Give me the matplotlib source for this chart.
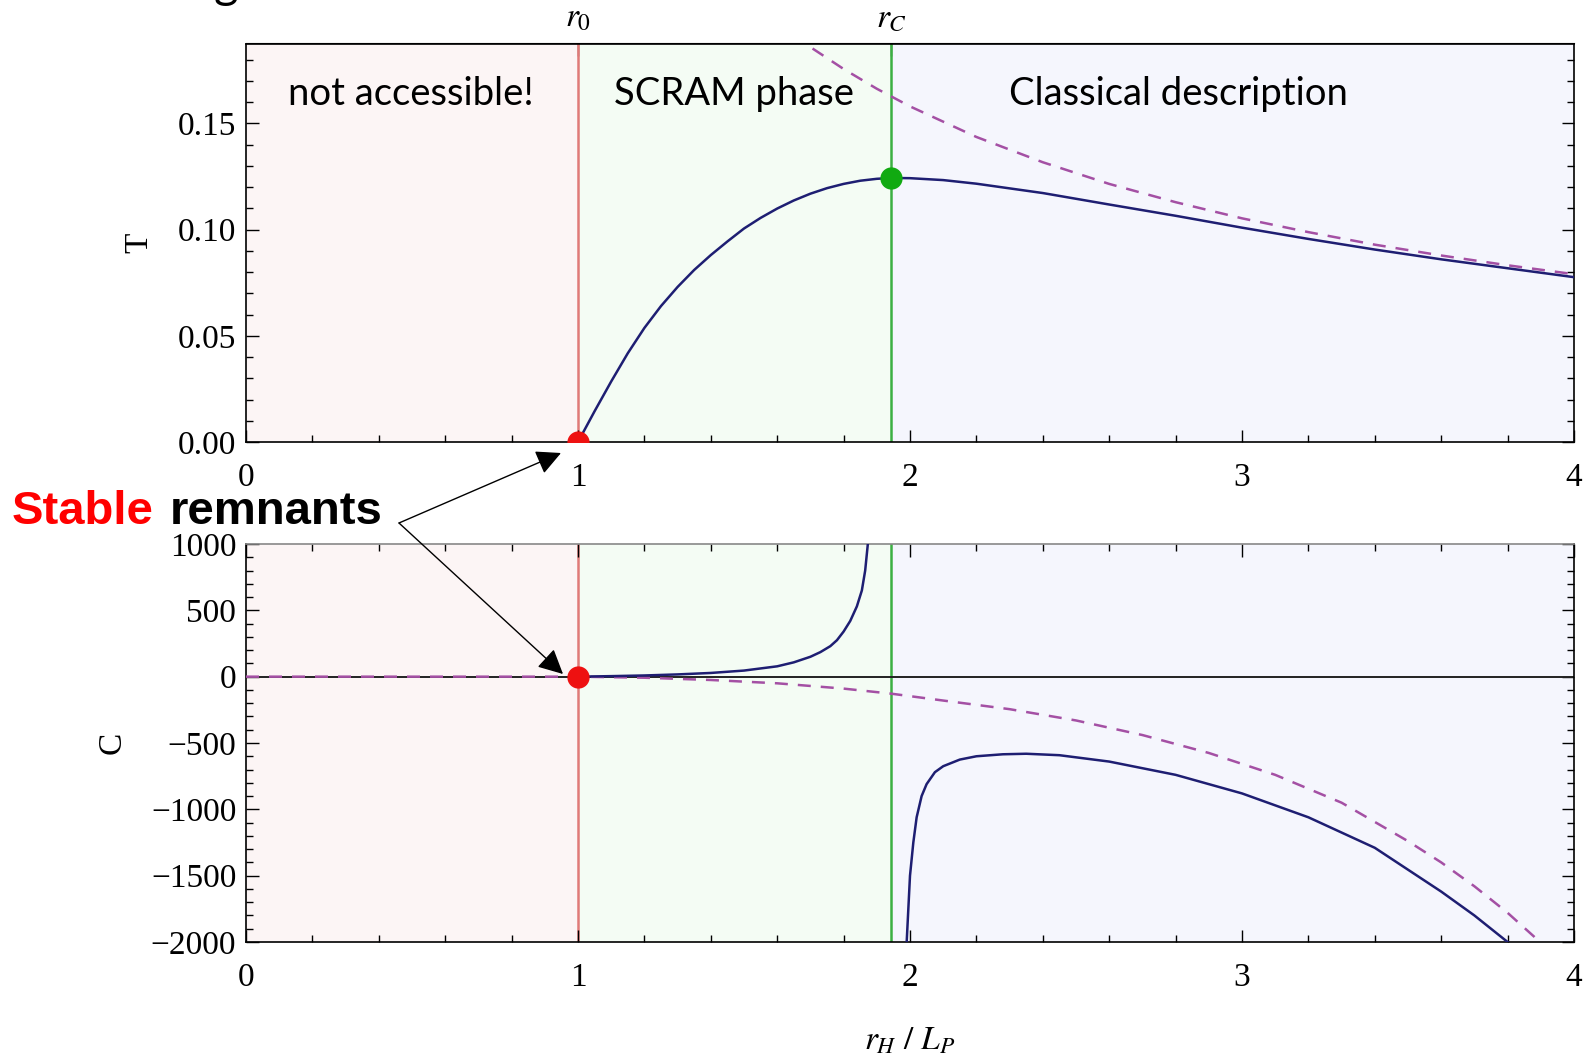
import matplotlib
matplotlib.use("Agg")
import matplotlib.pyplot as plt
from matplotlib.ticker import MultipleLocator

# ---------------- data ----------------
r0 = 1.0
rC = 1.943
x_limits = [0, 4]
region_edges = [0.0, r0, rC, 4.0]
region_labels = ["not accessible!", "SCRAM phase", "Classical description"]
region_label_x = [0.495, 1.47, 2.81]

T_r = [1.00, 1.05, 1.10, 1.15, 1.20, 1.25, 1.30, 1.35, 1.40, 1.45, 1.50, 1.55, 1.60,
       1.65, 1.70, 1.75, 1.80, 1.85, 1.90, 1.943, 2.0, 2.1, 2.2, 2.4, 2.6, 2.8, 3.0,
       3.2, 3.4, 3.6, 3.8, 4.0]
T_val = [0.0, 0.0145, 0.0285, 0.0418, 0.0537, 0.0640, 0.0730, 0.0810, 0.0880, 0.0944,
         0.1005, 0.1055, 0.1099, 0.1137, 0.1169, 0.1195, 0.1215, 0.1230, 0.1239, 0.1243,
         0.1242, 0.1233, 0.1216, 0.1172, 0.1118, 0.1065, 0.1009, 0.0956, 0.0906, 0.0860,
         0.0818, 0.0776]

Tcl_r = [1.65, 1.70, 1.80, 1.90, 2.0, 2.2, 2.4, 2.6, 2.8, 3.0, 3.2, 3.4, 3.6, 3.8, 4.0]
Tcl_val = [0.1915, 0.1859, 0.1756, 0.1663, 0.1580, 0.1436, 0.1317, 0.1215, 0.1129,
           0.1053, 0.0988, 0.0929, 0.0878, 0.0832, 0.0790]

C_pos_r = [1.0, 1.1, 1.2, 1.3, 1.4, 1.5, 1.6, 1.65, 1.7, 1.73, 1.76, 1.78, 1.80, 1.82,
           1.84, 1.855, 1.865, 1.873, 1.88]
C_pos_val = [0, 4, 9, 17, 28, 46, 78, 108, 150, 185, 230, 275, 340, 420, 530, 650, 800,
             1000, 1200]

C_neg_r = [1.99, 2.0, 2.01, 2.02, 2.035, 2.05, 2.075, 2.1, 2.15, 2.2, 2.28, 2.35, 2.45,
           2.6, 2.8, 3.0, 3.2, 3.4, 3.6, 3.7, 3.78, 3.8]
C_neg_val = [-2000, -1500, -1250, -1060, -900, -810, -720, -675, -625, -600, -585, -581,
             -592, -640, -740, -880, -1060, -1290, -1620, -1800, -1960, -2000]

Ccl_r = [0.0, 1.0, 1.2, 1.4, 1.6, 1.8, 1.943, 2.1, 2.3, 2.5, 2.7, 2.9, 3.1, 3.3, 3.5,
         3.6, 3.7, 3.8, 3.88, 3.9]
Ccl_val = [0, 0, -8, -25, -50, -90, -128, -180, -245, -330, -440, -575, -740, -950,
           -1240, -1400, -1580, -1780, -1960, -2010]

T_ylim = [0, 0.1876]
C_ylim = [-2000, 1000]

# ---------------- style ----------------
plt.rcParams['mathtext.fontset'] = 'stix'
plt.rcParams['font.family'] = ['Liberation Serif', 'DejaVu Serif']

shade_colors = ['#fcf5f5', '#f4fcf4', '#f5f6fd']
red_line = '#e07a78'
green_line = '#3cb043'
solid_col = '#1e1e72'
dash_col = '#a450a4'
dash_pat = (5.2, 4.0)

fig = plt.figure(figsize=(15.85, 10.6), dpi=100)
W, H = 1585, 1060
left, right = 246 / W, 1574 / W
ax1 = fig.add_axes([left, 1 - 442 / H, right - left, 398.5 / H])
ax2 = fig.add_axes([left, 1 - 942 / H, right - left, 398 / H])

tick_fs = 24
for ax in (ax1, ax2):
    for i in range(3):
        ax.axvspan(region_edges[i], region_edges[i + 1], color=shade_colors[i], lw=0, zorder=0)
    ax.axvline(r0, color=red_line, lw=1.8, zorder=1)
    ax.axvline(rC, color=green_line, lw=1.8, zorder=1)
    ax.set_xlim(x_limits)
    ax.xaxis.set_major_locator(MultipleLocator(1))
    ax.xaxis.set_minor_locator(MultipleLocator(0.2))
    ax.tick_params(which='both', direction='in', labelsize=tick_fs, width=1.0)
    ax.tick_params(which='major', length=9)
    ax.tick_params(which='minor', length=5)
    ax.tick_params(axis='x', pad=15)
    ax.tick_params(axis='y', pad=7)
    for s in ax.spines.values():
        s.set_linewidth(1.2)

# ---- top panel ----
ax1.set_ylim(T_ylim)
ax1.yaxis.set_major_locator(MultipleLocator(0.05))
ax1.yaxis.set_minor_locator(MultipleLocator(0.01))
ax1.yaxis.set_major_formatter(matplotlib.ticker.FormatStrFormatter('%.2f'))
ax1.tick_params(which='both', top=False, right=True, bottom=True, left=True)
ax1.plot(Tcl_r, Tcl_val, color=dash_col, lw=1.8, dashes=dash_pat, zorder=3)
ax1.plot(T_r, T_val, color=solid_col, lw=1.8, zorder=4)
ax1.plot([r0], [0], 'o', color='#ee1111', ms=15, zorder=6, clip_on=True)
ax1.plot([rC], [T_val[T_r.index(rC)]], 'o', color='#11aa11', ms=15, zorder=6)
sec = ax1.secondary_xaxis('top')
sec.set_xticks([r0, rC])
sec.set_xticklabels([r'$r_0$', r'$r_C$'])
sec.tick_params(direction='in', length=9, width=1.0, labelsize=24, pad=7)
ax1.set_ylabel('T', fontsize=24)
ax1.yaxis.set_label_coords(-0.069, 0.5)

for lab, xl in zip(region_labels, region_label_x):
    ax1.text(xl, 0.164, lab, fontsize=27.5, family=['Lato', 'DejaVu Sans'],
             ha='center', va='center', zorder=5)

# ---- bottom panel ----
ax2.set_ylim(C_ylim)
ax2.yaxis.set_major_locator(MultipleLocator(500))
ax2.yaxis.set_minor_locator(MultipleLocator(100))
ax2.tick_params(which='both', top=True, right=True)
ax2.spines['top'].set_color('#888888')
ax2.axhline(0, color='#222222', lw=1.4, zorder=2)
ax2.plot(Ccl_r, Ccl_val, color=dash_col, lw=1.8, dashes=dash_pat, zorder=3)
ax2.plot(C_pos_r, C_pos_val, color=solid_col, lw=1.8, zorder=4)
ax2.plot(C_neg_r, C_neg_val, color=solid_col, lw=1.8, zorder=4)
ax2.plot([r0], [0], 'o', color='#ee1111', ms=15, zorder=6)
ax2.set_ylabel('C', fontsize=24)
ax2.yaxis.set_label_coords(-0.0895, 0.5)
ax2.text(0.5, -0.249, r'$r_H\ /\ L_P$', transform=ax2.transAxes, fontsize=24,
         ha='center', va='center')

# ---- annotation ----
fig.text(12 / W, 1 - 512 / H, 'Stable', color='#ff0000', fontsize=34, fontweight='bold',
         family=['Liberation Sans', 'DejaVu Sans'], ha='left', va='center')
fig.text(383 / W, 1 - 512 / H, 'remnants', color='black', fontsize=34, fontweight='bold',
         family=['Liberation Sans', 'DejaVu Sans'], ha='right', va='center')
for tip in [(561, 453), (563, 674)]:
    fig.add_artist(matplotlib.patches.FancyArrowPatch(
        (399 / W, 1 - 523 / H), (tip[0] / W, 1 - tip[1] / H),
        transform=fig.transFigure, arrowstyle='-|>', mutation_scale=38,
        lw=1.0, color='black', shrinkA=0, shrinkB=0, zorder=10))

# clipped title fragment at the very top
fig.text(226 / W, 1 + 2 / H, 'g', fontsize=34, family=['Lato', 'DejaVu Sans'],
         ha='center', va='baseline')

fig.savefig('out.png', dpi=100)
